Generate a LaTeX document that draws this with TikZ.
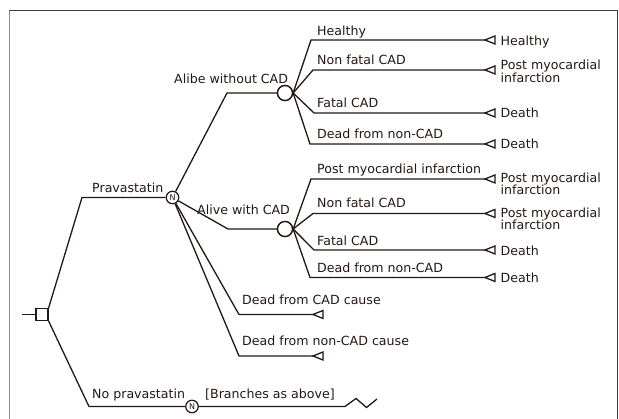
\documentclass[tikz,border=0pt]{standalone}
\usepackage{fontspec}
\setmainfont{DejaVu Sans}
\definecolor{ink}{RGB}{35,24,21}
\begin{document}
\begin{tikzpicture}[x=1pt,y=-1pt,
  ln/.style={draw=ink, line width=1.3pt},
  chance/.style={circle, draw=ink, fill=white, line width=1.3pt, minimum size=15pt, inner sep=0pt},
  nchance/.style={circle, draw=ink, fill=white, line width=1.2pt, minimum size=12.5pt, inner sep=0pt, text=ink, font=\fontsize{8}{8}\selectfont},
  decision/.style={rectangle, draw=ink, fill=white, line width=1.3pt, minimum size=12pt, inner sep=0pt},
  lbl/.style={anchor=base west, inner sep=0pt, text=ink, font=\fontsize{12.6}{12.6}\selectfont},
  termtri/.pic={\draw[ink, line width=1.3pt, line join=miter] (0,0) -- (10,-4) -- (10,4) -- cycle;}
]
\useasboundingbox (0,0) rectangle (619,419);
% frame
\draw[black!45, line width=1pt] (9,419) -- (9,11);
\draw[black!75, line width=1pt] (9,11) -- (617,11) -- (617,419);

% root decision
\node[decision] (D) at (42,314.5) {};
\coordinate (s0) at (22,314.5);
\draw[ln] (s0) -- (D);

% main branches
\coordinate (a1) at (82,197.5);
\node[nchance] (N1) at (172.5,197.5) {N};
\coordinate (b1) at (89,406.5);
\node[nchance] (N2) at (192,406.5) {N};
\draw[ln] (D.north east) -- (a1) -- (N1);
\draw[ln] (D.south east) -- (b1) -- (N2);
\coordinate (z0) at (345,406.5);
\coordinate (z1) at (356,398.5);
\coordinate (z2) at (366.5,407.5);
\coordinate (z3) at (377,399);
\draw[ln] (N2) -- (z0) -- (z1) -- (z2) -- (z3);

% pravastatin subtree
\coordinate (c1a) at (227,93);
\node[chance] (C1) at (285,93) {};
\coordinate (c2a) at (228,229);
\node[chance] (C2) at (285,229) {};
\coordinate (d1a) at (239,314.5);
\coordinate (t9) at (313,314.5);
\coordinate (d2a) at (239,356);
\coordinate (t10) at (313,356);
\draw[ln] (N1) -- (c1a) -- (C1);
\draw[ln] (N1) -- (c2a) -- (C2);
\draw[ln] (N1) -- (d1a) -- (t9);
\draw[ln] (N1) -- (d2a) -- (t10);
\pic at (t9) {termtri};
\pic at (t10) {termtri};

% branches from C1
\coordinate (h1) at (311,40);    \coordinate (t1) at (485,40);
\coordinate (h2) at (313,70);    \coordinate (t2) at (485,70);
\coordinate (h3) at (314,113);   \coordinate (t3) at (485,113);
\coordinate (h4) at (310,144);   \coordinate (t4) at (485,144);
% branches from C2
\coordinate (h5) at (311,179);   \coordinate (t5) at (485,179);
\coordinate (h6) at (313,213.5); \coordinate (t6) at (485,213.5);
\coordinate (h7) at (314,250);   \coordinate (t7) at (485,250);
\coordinate (h8) at (310,277.5); \coordinate (t8) at (485,277.5);
\foreach \h/\t in {h1/t1,h2/t2,h3/t3,h4/t4}{
  \draw[ln] (C1.east) -- (\h) -- (\t);
  \pic at (\t) {termtri};
}
\foreach \h/\t in {h5/t5,h6/t6,h7/t7,h8/t8}{
  \draw[ln] (C2.east) -- (\h) -- (\t);
  \pic at (\t) {termtri};
}
\node[chance] at (C1) {};
\node[chance] at (C2) {};

% left labels
\node[lbl] (lpra) at (92,193) {Pravastatin};
\node[lbl] (lawo) at (174,83.5) {Alibe without CAD};
\node[lbl] (lawi) at (197,215) {Alive with CAD};
\node[lbl] (ldc) at (242,305) {Dead from CAD cause};
\node[lbl] (ldn) at (242,346) {Dead from non-CAD cause};
\node[lbl] (lnop) at (92,399) {No pravastatin};
\node[lbl] (lbr) at (205,399) {[Branches as above]};

% branch labels
\node[lbl] (b1l) at (317,36) {Healthy};
\node[lbl] (b2l) at (317,65) {Non fatal CAD};
\node[lbl] (b3l) at (317,108) {Fatal CAD};
\node[lbl] (b4l) at (317,139) {Dead from non-CAD};
\node[lbl] (b5l) at (317,174) {Post myocardial infarction};
\node[lbl] (b6l) at (317,208) {Non fatal CAD};
\node[lbl] (b7l) at (317,245.5) {Fatal CAD};
\node[lbl] (b8l) at (317,272.5) {Dead from non-CAD};

% terminal labels
\node[lbl] (o1) at (500.5,46) {Healthy};
\node[lbl] (o2a) at (500.5,70) {Post myocardial};
\node[lbl] (o2b) at (500.5,82.3) {infarction};
\node[lbl] (o3) at (500.5,118) {Death};
\node[lbl] (o4) at (500.5,149) {Death};
\node[lbl] (o5a) at (500.5,182.3) {Post myocardial};
\node[lbl] (o5b) at (500.5,194.3) {infarction};
\node[lbl] (o6a) at (500.5,217.3) {Post myocardial};
\node[lbl] (o6b) at (500.5,229.3) {infarction};
\node[lbl] (o7) at (500.5,256) {Death};
\node[lbl] (o8) at (500.5,283) {Death};
\end{tikzpicture}
\end{document}
